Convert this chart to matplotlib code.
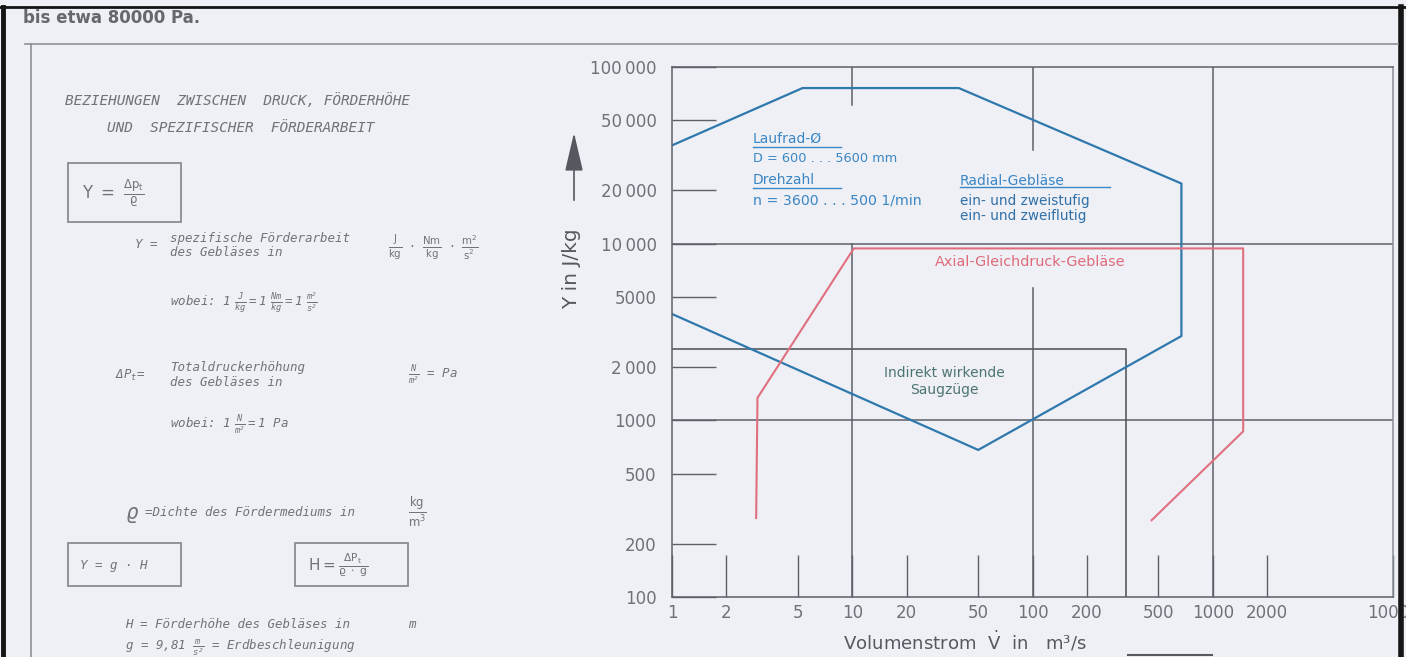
import matplotlib
matplotlib.use("Agg")
import matplotlib.pyplot as plt
from matplotlib.lines import Line2D
from matplotlib.patches import Rectangle, FancyArrowPatch

plt.rcParams['font.family'] = ['DejaVu Sans']
plt.rcParams['mathtext.default'] = 'regular'

# ---------------- data ----------------
x_ticks = [1, 2, 5, 10, 20, 50, 100, 200, 500, 1000, 2000, 10000]
x_tick_labels = ["1", "2", "5", "10", "20", "50", "100", "200", "500", "1000", "2000", "10000"]
y_ticks = [100, 200, 500, 1000, 2000, 5000, 10000, 20000, 50000, 100000]
y_tick_labels = ["100", "200", "500", "1000", "2\u2009000", "5000", "10\u2009000", "20\u2009000", "50\u2009000", "100\u2009000"]

# Radial-Gebläse (blue outline)
radial_x = [1, 5.3, 39, 670, 670, 50, 1]
radial_y = [36000, 76000, 76000, 21900, 3000, 680, 4000]

# Axial-Gleichdruck-Gebläse (red outline)
axial_x = [2.93, 2.98, 10.2, 1475, 1475, 458]
axial_y = [280, 1340, 9400, 9400, 866, 272]

# Indirekt wirkende Saugzüge (rectangle)
saug_x = [1, 330, 330]
saug_y = [2530, 2530, 100]

# ---------------- figure ----------------
W, H = 1406, 657
fig = plt.figure(figsize=(W / 100, H / 100), dpi=100, facecolor='#eef0f5')

def fx(x):
    return x / W

def fy(y):
    return 1 - y / H

AX_L, AX_R, AX_T, AX_B = 672, 1393, 67, 597
ax = fig.add_axes([fx(AX_L), fy(AX_B), (AX_R - AX_L) / W, (AX_B - AX_T) / H])
ax.set_facecolor('none')
ax.set_xscale('log')
ax.set_yscale('log')
ax.set_xlim(1, 10000)
ax.set_ylim(100, 100000)

gray = '#5c6068'
lab = '#6e7178'
for s in ax.spines.values():
    s.set_color(gray)
    s.set_linewidth(1.1)
ax.spines['right'].set_color('#8a8e96')

ax.set_xticks(x_ticks)
ax.set_xticklabels(x_tick_labels)
ax.set_yticks(y_ticks)
ax.set_yticklabels(y_tick_labels)
ax.minorticks_off()
ax.tick_params(axis='x', direction='in', length=30, width=1.0, color=gray,
               labelsize=12, labelcolor=lab, pad=5)
ax.tick_params(axis='y', direction='in', length=32, width=1.0, color=gray,
               labelsize=12, labelcolor=lab, pad=11)

# grid segments (full lines at 1000, 10000 and 1000 m3/s, partial at 10 and 100)
ax.plot([1, 10000], [10000, 10000], color=gray, lw=1.1)
ax.plot([1, 10000], [1000, 1000], color=gray, lw=1.1)
ax.plot([1000, 1000], [100, 100000], color=gray, lw=1.1)
ax.plot([10, 10], [60700, 100000], color=gray, lw=1.1)
ax.plot([10, 10], [100, 10000], color=gray, lw=1.1)
ax.plot([100, 100], [33700, 100000], color=gray, lw=1.1)
ax.plot([100, 100], [100, 5640], color=gray, lw=1.1)

# regions
ax.plot(saug_x, saug_y, color='#555a60', lw=1.2)
ax.plot(radial_x, radial_y, color='#2f78ad', lw=1.6)
ax.plot(axial_x, axial_y, color='#e0707f', lw=1.5)

# ---------------- chart annotations ----------------
blue = '#3b86c4'
def ftxt(x, y, s, **kw):
    fig.text(fx(x), fy(y), s, **kw)

ftxt(753, 139, "Laufrad-Ø", color=blue, fontsize=10, va='center')
fig.add_artist(Line2D([fx(753), fx(841)], [fy(147), fy(147)], color=blue, lw=1))
ftxt(753, 158, "D = 600 . . . 5600 mm", color=blue, fontsize=9.3, va='center')
ftxt(753, 180, "Drehzahl", color=blue, fontsize=10, va='center')
fig.add_artist(Line2D([fx(753), fx(841)], [fy(188), fy(188)], color=blue, lw=1))
ftxt(753, 200, "n = 3600 . . . 500 1/min", color=blue, fontsize=10.2, va='center')

ftxt(960, 181, "Radial-Gebläse", color=blue, fontsize=10, va='center')
fig.add_artist(Line2D([fx(960), fx(1110)], [fy(187), fy(187)], color=blue, lw=1))
ftxt(960, 201, "ein- und zweistufig", color='#2f6fa8', fontsize=9.8, va='center')
ftxt(960, 216, "ein- und zweiflutig", color='#2f6fa8', fontsize=9.8, va='center')

ftxt(935, 262, "Axial-Gleichdruck-Gebläse", color='#e06a7c', fontsize=10.4, va='center')

ftxt(944, 373, "Indirekt wirkende", color='#4d7474', fontsize=10, va='center', ha='center')
ftxt(944, 390, "Saugzüge", color='#4d7474', fontsize=10, va='center', ha='center')

# axis labels
ftxt(572, 269, "Y in J/kg", color='#55585f', fontsize=14.5, rotation=90, ha='center', va='center')
fig.add_artist(FancyArrowPatch((fx(574), fy(203)), (fx(574), fy(130)), transform=fig.transFigure,
                               arrowstyle='-|>,head_length=1.2,head_width=0.28', mutation_scale=20,
                               color='#55585f', lw=1.2))
ftxt(843, 641, r"Volumenstrom  $\dot{V}$  in   m³/s", color='#55585f', fontsize=13.1,
     va='center', ha='left')
fig.add_artist(Line2D([fx(1128), fx(1212)], [fy(655), fy(655)], color='#55585f', lw=1.5))

# ---------------- page frame ----------------
fig.add_artist(Line2D([fx(0), fx(W)], [fy(7), fy(7)], color='#151515', lw=2))
fig.add_artist(Line2D([fx(3), fx(3)], [fy(7), fy(H)], color='#151515', lw=3.5))
fig.add_artist(Line2D([fx(1401), fx(1401)], [fy(7), fy(H)], color='#151515', lw=4))
fig.add_artist(Line2D([fx(25), fx(1398)], [fy(44), fy(44)], color='#8d9097', lw=1.2))
fig.add_artist(Line2D([fx(31), fx(31)], [fy(44), fy(H)], color='#8d9097', lw=1.2))
ftxt(23, 18, "bis etwa 80000 Pa.", color='#66686e', fontsize=12, fontweight='bold', va='center')

# ---------------- left panel text ----------------
tc = '#717379'
it = dict(color=tc, family='DejaVu Sans Mono', style='italic', va='center')
ftxt(65, 101, "BEZIEHUNGEN  ZWISCHEN  DRUCK, FÖRDERHÖHE", fontsize=10.4, **it)
ftxt(107, 128, "UND  SPEZIFISCHER  FÖRDERARBEIT", fontsize=10.4, **it)

for (x0, y0, x1, y1) in [(68, 163, 181, 222), (68, 543, 181, 586), (295, 543, 408, 586)]:
    fig.add_artist(Rectangle((fx(x0), fy(y1)), (x1 - x0) / W, (y1 - y0) / H,
                             transform=fig.transFigure, fill=False, ec='#8a8c92', lw=1.3))

ftxt(82, 193, r"$Y\ =\ \frac{\Delta p_t}{\varrho}$", fontsize=12, color=tc, va='center')
ftxt(135, 245, "Y =", fontsize=9, **it)
ftxt(170, 239, "spezifische Förderarbeit", fontsize=9, **it)
ftxt(170, 253, "des Gebläses in", fontsize=9, **it)
ftxt(388, 247, r"$\frac{J}{kg}\ \cdot\ \frac{Nm}{kg}\ \cdot\ \frac{m^2}{s^2}$", fontsize=10.5, color=tc, va='center')
ftxt(170, 303, r"wobei: $1\ \frac{J}{kg} = 1\ \frac{Nm}{kg} = 1\ \frac{m^2}{s^2}$", fontsize=9, **it)

ftxt(115, 375, r"$\Delta P_t$=", fontsize=9, **it)
ftxt(170, 368, "Totaldruckerhöhung", fontsize=9, **it)
ftxt(170, 382, "des Gebläses in", fontsize=9, **it)
ftxt(408, 375, r"$\frac{N}{m^2}$ = Pa", fontsize=9, **it)
ftxt(170, 425, r"wobei: $1\ \frac{N}{m^2} = 1$ Pa", fontsize=9, **it)

ftxt(125, 515, r"$\varrho$", fontsize=15, **it)
ftxt(145, 513, "=Dichte des Fördermediums in", fontsize=9, **it)
ftxt(408, 512, r"$\frac{kg}{m^3}$", fontsize=12, color=tc, va='center')

ftxt(80, 565, "Y = g · H", fontsize=9, **it)
ftxt(308, 565, r"$H = \frac{\Delta P_t}{\varrho\ \cdot\ g}$", fontsize=11, color=tc, va='center')

ftxt(125, 625, "H = Förderhöhe des Gebläses in", fontsize=9, **it)
ftxt(408, 625, "m", fontsize=9, **it)
ftxt(125, 648, r"g = 9,81 $\frac{m}{s^2}$ = Erdbeschleunigung", fontsize=9, **it)

fig.savefig("out.png", dpi=100, facecolor=fig.get_facecolor())
